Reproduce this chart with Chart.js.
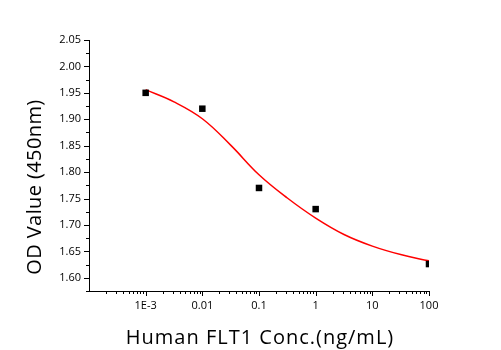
<!DOCTYPE html>
<html>
<head>
<meta charset="utf-8">
<script src="https://cdn.jsdelivr.net/npm/chart.js@4/dist/chart.umd.min.js"></script>
<style>
  html, body { margin: 0; padding: 0; background: #fff; }
  #wrap { width: 501px; height: 350px; }
</style>
</head>
<body>
<div id="wrap"><canvas id="chart"></canvas></div>
<script>
// measured points
const concs = [0.001, 0.01, 0.1, 1, 100];
const odValues = [1.95, 1.92, 1.77, 1.73, 1.626];

// fitted curve
const fitConcs = [0.001, 0.00316, 0.01, 0.0316, 0.1, 0.316, 1, 3.16, 10, 31.6, 100];
const fitValues = [1.956, 1.933, 1.901, 1.851, 1.795, 1.751, 1.713, 1.682, 1.660, 1.644, 1.632];

// axis ticks
const xMajorTicks = [0.001, 0.01, 0.1, 1, 10, 100];
const xMajorLabels = ['1E-3', '0.01', '0.1', '1', '10', '100'];
const xDecades = [0.0001, 0.001, 0.01, 0.1, 1, 10];
const xMinorSteps = [2, 3, 4, 5, 6, 7, 8, 9];
const yMajorTicks = [1.60, 1.65, 1.70, 1.75, 1.80, 1.85, 1.90, 1.95, 2.00, 2.05];
const yMinorTicks = [1.575, 1.625, 1.675, 1.725, 1.775, 1.825, 1.875, 1.925, 1.975, 2.025];

const xTitle = 'Human FLT1 Conc.(ng/mL)';
const yTitle = 'OD Value (450nm)';

const tickFont = { family: 'Open Sans', size: 11 };
const titleFont = '20px "Open Sans"';

const xTickValues = [];
xDecades.forEach(d => {
    xTickValues.push(d);
    xMinorSteps.forEach(s => xTickValues.push(+(d * s).toPrecision(3)));
});
xTickValues.push(100);

const yTickValues = yMajorTicks.concat(yMinorTicks).sort((a, b) => a - b);

function isMajor(scale, value) {
    const list = scale.axis === 'x' ? xMajorTicks : yMajorTicks;
    return list.some(v => Math.abs(v - value) < 1e-9);
}

// tick marks (outside) and axis titles
const decorPlugin = {
    id: 'decor',
    afterDraw(chart) {
        const ctx = chart.ctx;
        const xs = chart.scales.x;
        const ys = chart.scales.y;
        const area = chart.chartArea;
        ctx.save();
        ctx.strokeStyle = '#000';
        ctx.lineWidth = 1;
        ctx.beginPath();
        xs.ticks.forEach(t => {
            const px = Math.round(xs.getPixelForValue(t.value)) + 0.5;
            const len = (t.value === 0.0001) ? 0 : (isMajor(xs, t.value) ? 5 : 3);
            ctx.moveTo(px, area.bottom);
            ctx.lineTo(px, area.bottom + len);
        });
        ys.ticks.forEach(t => {
            const py = Math.round(ys.getPixelForValue(t.value)) + 0.5;
            const len = isMajor(ys, t.value) ? 5 : 3;
            ctx.moveTo(area.left, py);
            ctx.lineTo(area.left - len, py);
        });
        ctx.stroke();

        ctx.fillStyle = '#000';
        ctx.font = titleFont;
        ctx.textAlign = 'center';
        ctx.textBaseline = 'middle';
        ctx.letterSpacing = '1px';
        ctx.fillText(xTitle, (area.left + area.right) / 2 + 1, 338);
        ctx.letterSpacing = '0.4px';
        ctx.translate(35, 187);
        ctx.rotate(-Math.PI / 2);
        ctx.fillText(yTitle, 0, 0);
        ctx.restore();
    }
};

new Chart(document.getElementById('chart'), {
    type: 'scatter',
    data: {
        datasets: [
            {
                label: 'fit',
                data: fitConcs.map((c, i) => ({ x: c, y: fitValues[i] })),
                showLine: true,
                borderColor: '#ff0000',
                borderWidth: 1.5,
                pointRadius: 0,
                tension: 0.4,
                order: 2
            },
            {
                label: 'OD',
                data: concs.map((c, i) => ({ x: c, y: odValues[i] })),
                pointStyle: 'rect',
                pointRadius: 4.6,
                borderWidth: 0,
                backgroundColor: '#000',
                order: 1
            }
        ]
    },
    options: {
        responsive: true,
        maintainAspectRatio: false,
        animation: false,
        layout: { padding: { top: 40, right: 72, left: 0, bottom: 0 } },
        plugins: {
            legend: { display: false },
            tooltip: { enabled: false }
        },
        scales: {
            x: {
                type: 'logarithmic',
                min: 0.0001,
                max: 100,
                afterBuildTicks: (scale) => {
                    scale.ticks = xTickValues.map(v => ({ value: v }));
                },
                afterFit: (scale) => { scale.height = 59; },
                grid: { display: true, drawOnChartArea: false, drawTicks: false },
                border: { display: true, color: '#000', width: 1 },
                ticks: {
                    autoSkip: false,
                    maxRotation: 0,
                    padding: 8,
                    color: '#000',
                    font: tickFont,
                    callback: (value) => {
                        const i = xMajorTicks.findIndex(v => Math.abs(v - value) < 1e-12);
                        return i >= 0 ? xMajorLabels[i] : '';
                    }
                }
            },
            y: {
                min: 1.575,
                max: 2.05,
                afterBuildTicks: (scale) => {
                    scale.ticks = yTickValues.map(v => ({ value: v }));
                },
                afterFit: (scale) => { scale.width = 89; },
                grid: { display: true, drawOnChartArea: false, drawTicks: false },
                border: { display: true, color: '#000', width: 1 },
                ticks: {
                    autoSkip: false,
                    padding: 8,
                    color: '#000',
                    font: tickFont,
                    callback: (value) => {
                        const major = yMajorTicks.some(v => Math.abs(v - value) < 1e-9);
                        return major ? value.toFixed(2) : '';
                    }
                }
            }
        }
    },
    plugins: [decorPlugin]
});
</script>
</body>
</html>
